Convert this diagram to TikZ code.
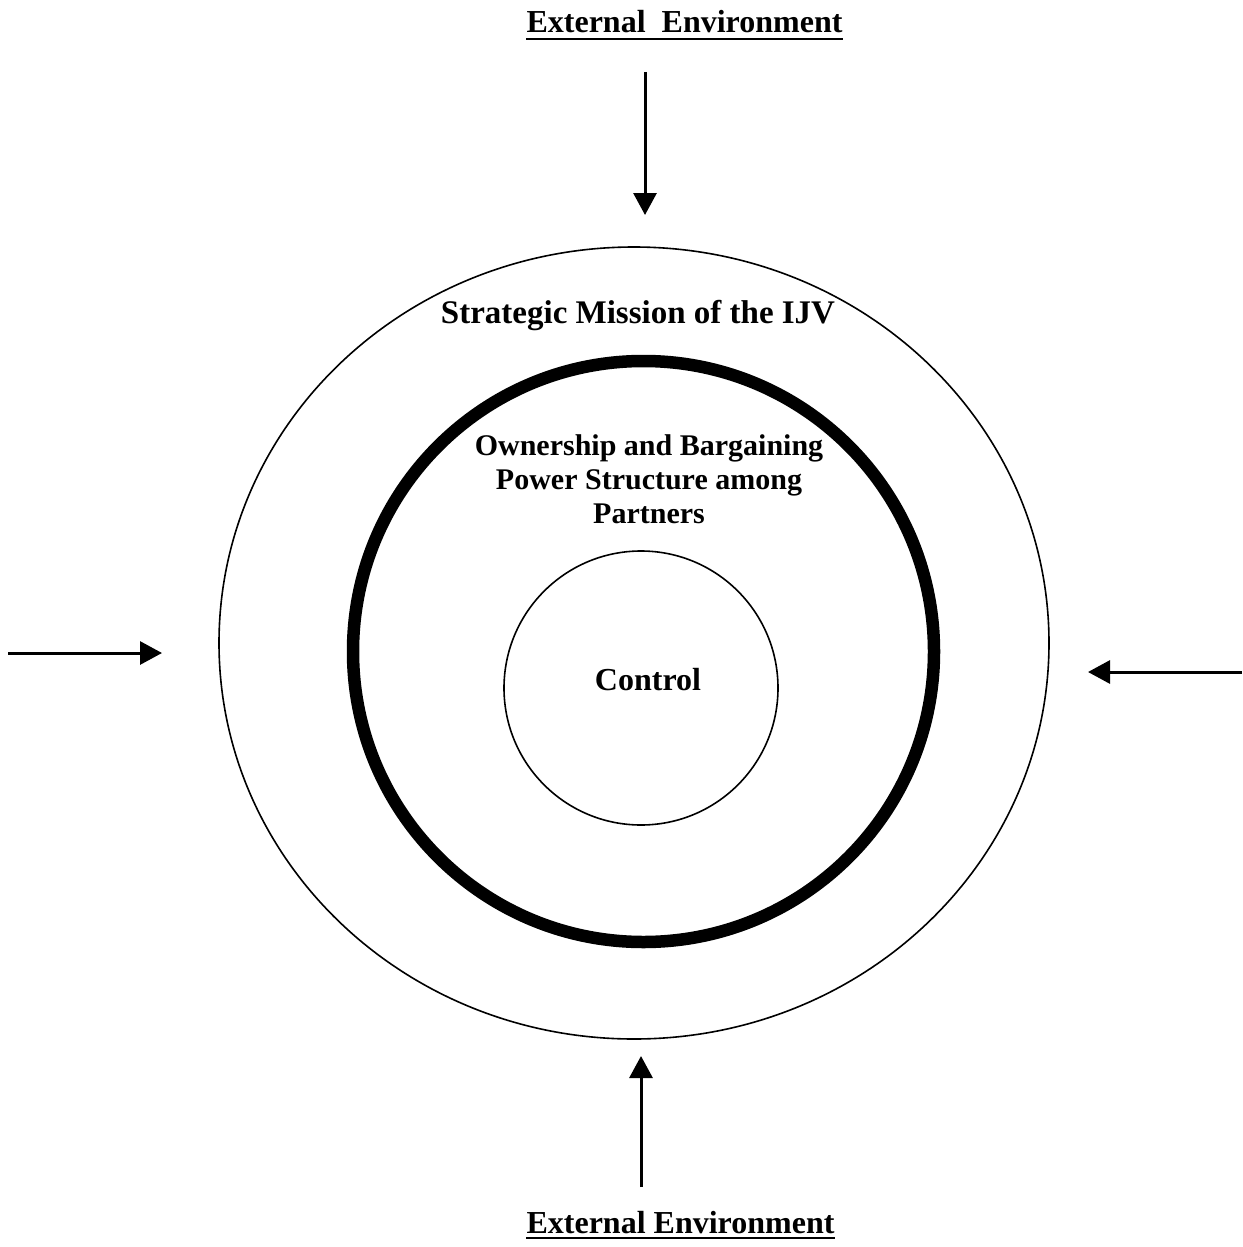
\documentclass[tikz,border=0pt]{standalone}
\usepackage{fontspec}
\setmainfont{Liberation Serif}
\usetikzlibrary{arrows.meta,shapes.geometric}
\begin{document}
\begin{tikzpicture}[x=1pt,y=-1pt,
  ring/.style={draw=black,fill=none,inner sep=0pt,outer sep=0pt},
  thinring/.style={ring,line width=1.6pt},
  thickring/.style={ring,line width=12.5pt},
  flow/.style={line width=3pt,-{Triangle[length=22pt,width=23pt]}},
  heading/.style={font=\fontsize{32}{36}\selectfont\bfseries,inner sep=0pt,anchor=base},
  label/.style={font=\fontsize{33}{36}\selectfont\bfseries,inner sep=0pt,anchor=base},
  blocktext/.style={font=\fontsize{30}{34}\selectfont\bfseries,inner sep=0pt,align=center,anchor=north},
  rule/.style={line width=2.6pt}]
  \useasboundingbox (0,0) rectangle (1242,1247);

  % concentric layers
  \node[thinring,ellipse,minimum width=830pt,minimum height=792pt] (mission) at (634,643) {};
  \node[thickring,circle,minimum size=581pt] (ownership) at (643.5,651.5) {};
  \node[thinring,circle,minimum size=274pt] (control) at (641,688) {};

  % layer labels
  \node[label] (missiontxt) at (638,323) {Strategic Mission of the IJV};
  \node[blocktext] (owntxt) at (649,434) {Ownership and Bargaining\\Power Structure among\\Partners};
  \node[label,font=\fontsize{32}{36}\selectfont\bfseries] (controltxt) at (648,690) {Control};

  % external environment headings
  \node[heading] (envtop) at (684.5,33) {External\ \ Environment};
  \node[heading] (envbot) at (680.5,1233) {External Environment};
  \draw[rule] ([yshift=-6pt]envtop.base west) -- ([yshift=-6pt]envtop.base east);
  \draw[rule] ([yshift=-5pt]envbot.base west) -- ([yshift=-5pt]envbot.base east);

  % external forces acting on the venture
  \coordinate (topstart) at (645,72);
  \coordinate (topend) at (645,215);
  \coordinate (leftstart) at (8,653);
  \coordinate (leftend) at (162,653);
  \coordinate (rightstart) at (1242,672);
  \coordinate (rightend) at (1088,672);
  \coordinate (botstart) at (641,1187);
  \coordinate (botend) at (641,1056);
  \draw[flow] (topstart) -- (topend);
  \draw[flow] (leftstart) -- (leftend);
  \draw[flow] (rightstart) -- (rightend);
  \draw[flow] (botstart) -- (botend);
\end{tikzpicture}
\end{document}
